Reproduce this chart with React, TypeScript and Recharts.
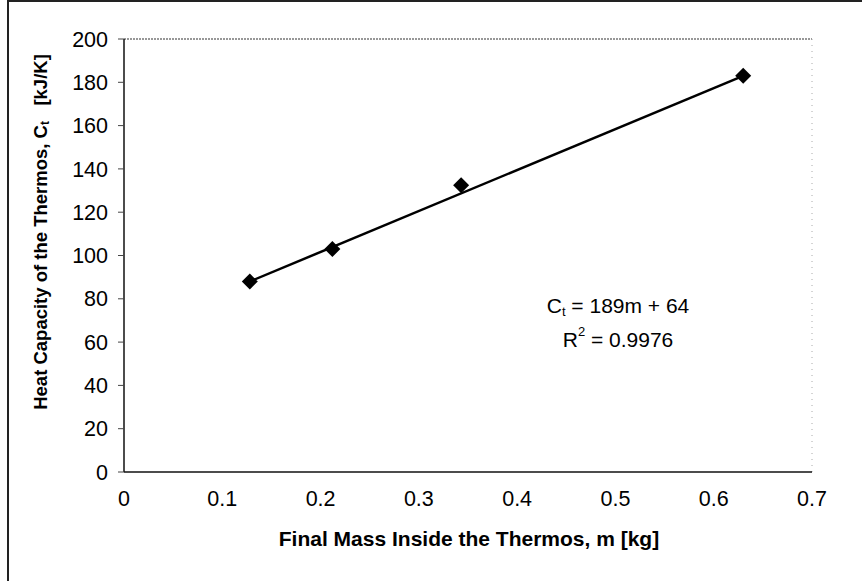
import React from 'react';
import {
  ScatterChart,
  Scatter,
  XAxis,
  YAxis,
  ReferenceLine,
} from 'recharts';

const massKg = [0.128, 0.212, 0.343, 0.63];
const heatCapacity = [88, 103, 132.5, 183];

// trendline ends (Ct = 189m + 64)
const trendMass = [0.128, 0.63];
const trendHeat = [88, 183];

const xTicks = [0, 0.1, 0.2, 0.3, 0.4, 0.5, 0.6, 0.7];
const yTicks = [0, 20, 40, 60, 80, 100, 120, 140, 160, 180, 200];

const points = massKg.map((m, i) => ({ m, c: heatCapacity[i] }));
const trend = trendMass.map((m, i) => ({ m, c: trendHeat[i] }));

const FONT = '"Liberation Sans", Arial, Helvetica, sans-serif';

const Diamond = (props: any) => {
  const { cx, cy } = props;
  if (cx == null || cy == null) return null;
  const r = 8;
  return (
    <polygon
      points={`${cx},${cy - r} ${cx + r},${cy} ${cx},${cy + r} ${cx - r},${cy}`}
      fill="#000"
    />
  );
};

const NoDot = () => null;

const YTitle = () => (
  <text
    x={40}
    y={232}
    transform="rotate(-90 40 232)"
    textAnchor="middle"
    dominantBaseline="central"
    fontFamily={FONT}
    fontWeight="bold"
    fontSize={18.5}
    fill="#000"
  >
    Heat Capacity of the Thermos, C
    <tspan fontSize={12} dy={5}>t</tspan>
    <tspan dy={-5} xmlSpace="preserve">{'   [kJ/K]'}</tspan>
  </text>
);

const XTitle = () => (
  <text
    x={469}
    y={538}
    textAnchor="middle"
    dominantBaseline="central"
    fontFamily={FONT}
    fontWeight="bold"
    fontSize={21}
    fill="#000"
  >
    Final Mass Inside the Thermos, m [kg]
  </text>
);

const Equation = () => (
  <g fontFamily={FONT} fontSize={21} fill="#000">
    <text x={618} y={305} textAnchor="middle" dominantBaseline="central">
      C<tspan fontSize={13} dy={6}>t</tspan>
      <tspan dy={-6}> = 189m + 64</tspan>
    </text>
    <text x={618} y={339} textAnchor="middle" dominantBaseline="central">
      R<tspan fontSize={13} dy={-8}>2</tspan>
      <tspan dy={8}> = 0.9976</tspan>
    </text>
  </g>
);

export default function App() {
  return (
    <div style={{ position: 'absolute', left: 0, top: 0, width: 866, height: 581, background: '#fff', overflow: 'hidden' }}>
      {/* scanned frame: top and left edges */}
      <div
        style={{
          position: 'absolute',
          left: 7,
          top: 0,
          width: 855,
          height: 581,
          borderTop: '2px solid #222',
          borderLeft: '2px solid #222',
          boxSizing: 'border-box',
        }}
      />
      <ScatterChart
        width={866}
        height={581}
        margin={{ top: 39, right: 54, bottom: 49, left: 64 }}
        style={{ position: 'absolute', left: 0, top: 0 }}
      >
        <XAxis
          type="number"
          dataKey="m"
          domain={[0, 0.7]}
          ticks={xTicks}
          allowDataOverflow
          height={60}
          tickSize={0}
          tickMargin={19}
          tickLine={false}
          axisLine={{ stroke: '#111', strokeWidth: 1.5 }}
          tick={{ fill: '#000', fontSize: 21.5, fontFamily: FONT }}
          label={<XTitle />}
        />
        <YAxis
          type="number"
          dataKey="c"
          domain={[0, 200]}
          ticks={yTicks}
          width={60}
          tickSize={6}
          tickMargin={10}
          tickLine={{ stroke: '#444' }}
          axisLine={{ stroke: '#111', strokeWidth: 1.5 }}
          tick={{ fill: '#000', fontSize: 21.5, fontFamily: FONT }}
          label={<YTitle />}
        />
        <ReferenceLine y={200} stroke="#333" strokeWidth={1.2} strokeDasharray="2 1" />
        <ReferenceLine x={0.7} stroke="#aaa" strokeWidth={1} strokeDasharray="1 5" />
        <Scatter
          data={trend}
          line={{ stroke: '#000', strokeWidth: 2.5 }}
          lineType="joint"
          shape={<NoDot />}
          isAnimationActive={false}
        />
        <Scatter data={points} shape={<Diamond />} isAnimationActive={false} />
      </ScatterChart>
      <svg width={866} height={581} style={{ position: 'absolute', left: 0, top: 0, pointerEvents: 'none' }}>
        <Equation />
      </svg>
    </div>
  );
}
